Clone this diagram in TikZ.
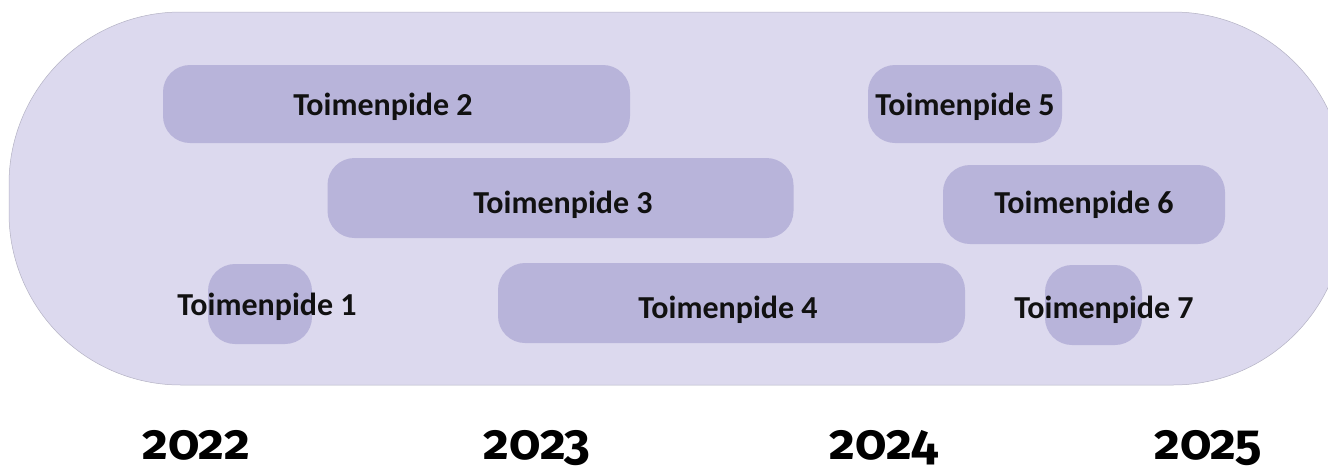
\documentclass[tikz,border=0pt]{standalone}
\usepackage{fontspec}
\setmainfont{Carlito}
\newfontfamily\yearfont[Numbers=OldStyle]{Fira Sans}
\definecolor{capsulefill}{HTML}{DCD9EE}
\definecolor{capsuleline}{HTML}{B4B2C4}
\definecolor{barfill}{HTML}{B8B4DA}
\definecolor{txt}{HTML}{111111}
\begin{document}
\begin{tikzpicture}[x=1pt,y=-1pt,
  bar/.style={fill=barfill, rounded corners=27pt, inner sep=0pt, draw=none},
  lbl/.style={text=txt, font=\fontsize{32}{34}\selectfont\bfseries, inner sep=0pt, anchor=base},
  yr/.style={text=black, font=\yearfont\fontsize{50}{52}\selectfont\bfseries, inner sep=0pt, anchor=base}]
\useasboundingbox (0,0) rectangle (1328,472);
\begin{scope}
\clip (0,0) rectangle (1328,472);
\draw[fill=capsulefill, draw=capsuleline, line width=0.5pt, rounded corners=172pt] (9,12) rectangle (1345,385);
\end{scope}
% bars
\node[bar, minimum width=104pt, minimum height=80pt] (b1) at (260,304) {};
\node[bar, minimum width=467pt, minimum height=78pt] (b2) at (396.5,104) {};
\node[bar, minimum width=466pt, minimum height=80pt] (b3) at (560.5,198) {};
\node[bar, minimum width=467pt, minimum height=80pt] (b4) at (731.5,303) {};
\node[bar, minimum width=194pt, minimum height=78pt] (b5) at (965,104) {};
\node[bar, minimum width=282pt, minimum height=79pt] (b6) at (1084,204.5) {};
\node[bar, minimum width=97pt, minimum height=80pt] (b7) at (1093.5,305) {};
% labels
\node[lbl] (t1) at (267,315) {Toimenpide 1};
\node[lbl] (t2) at (383,115) {Toimenpide 2};
\node[lbl] (t3) at (563,213) {Toimenpide 3};
\node[lbl] (t4) at (728,318) {Toimenpide 4};
\node[lbl] (t5) at (965,115) {Toimenpide 5};
\node[lbl] (t6) at (1084,213) {Toimenpide 6};
\node[lbl] (t7) at (1104,318) {Toimenpide 7};
% years
\node[yr] (y1) at (196.5,459) {2022};
\node[yr] (y2) at (537,459) {2023};
\node[yr] (y3) at (884,459) {2024};
\node[yr] (y4) at (1208,459) {2025};
\end{tikzpicture}
\end{document}
